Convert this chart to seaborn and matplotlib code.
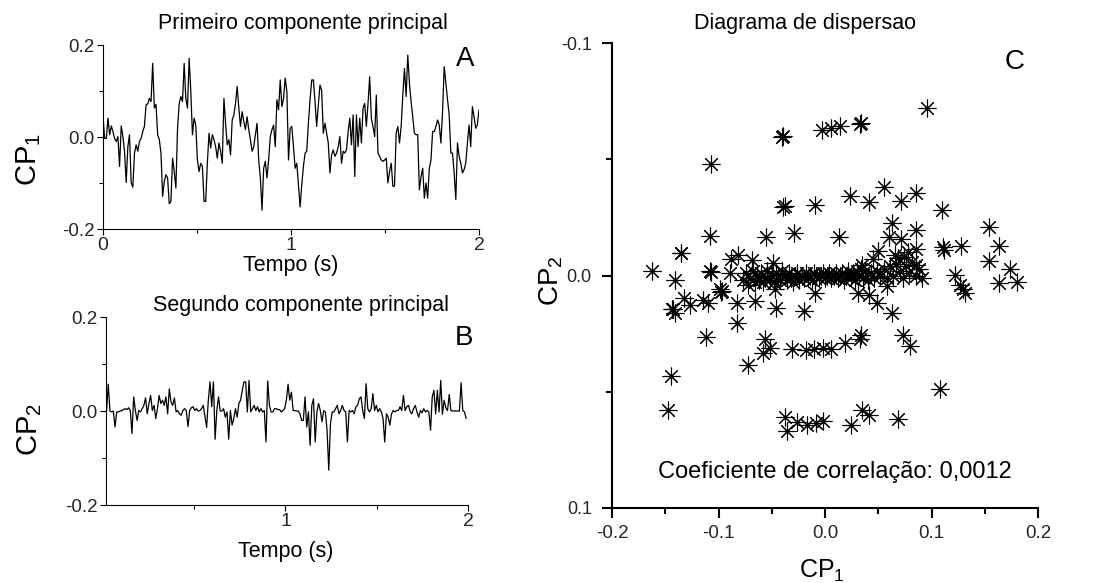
import numpy as np
import pandas as pd
import matplotlib
matplotlib.use("Agg")
import matplotlib.pyplot as plt
import seaborn as sns
from matplotlib.ticker import FixedLocator

# ---------------- data ----------------
cp1_series = [0.044, -0.003, -0.003, 0.041, 0.005, 0.024, 0.012, -0.003, -0.010, 0.001, -0.064, 0.024, 0.001,
              -0.031, -0.099, -0.021, 0.005, -0.099, -0.109, -0.035, -0.017, -0.031, -0.010, -0.003, 0.012, 0.023,
              0.070, 0.072, 0.084, 0.077, 0.160, 0.063, 0.071, 0.005, -0.006, -0.035, -0.129, -0.097, -0.082,
              -0.089, -0.145, -0.140, -0.046, -0.075, -0.111, 0.019, 0.072, 0.088, 0.077, 0.160, 0.084, 0.063,
              0.171, 0.099, 0.005, 0.041, 0.026, -0.050, -0.075, -0.057, -0.064, -0.140, -0.140, -0.057, 0.008,
              -0.024, 0.005, -0.006, -0.021, -0.046, -0.013, -0.031, -0.057, 0.084, 0.030, -0.017, -0.006, -0.039,
              0.037, 0.048, 0.073, 0.110, 0.063, 0.023, 0.055, 0.034, 0.016, 0.044, 0.016, -0.006, -0.031, -0.021,
              0.005, 0.030, -0.050, -0.089, -0.159, -0.068, -0.053, -0.089, -0.050, 0.001, 0.016, 0.026, -0.021,
              0.081, 0.059, 0.124, 0.066, 0.084, 0.128, 0.099, -0.050, 0.019, 0.023, -0.021, -0.068, -0.057,
              -0.104, -0.152, -0.104, -0.064, -0.035, -0.031, 0.030, 0.081, 0.124, 0.124, 0.077, 0.023, 0.070,
              0.113, 0.102, 0.008, 0.030, 0.008, -0.013, -0.078, -0.039, -0.028, -0.042, -0.035, -0.021, 0.001,
              -0.057, -0.031, -0.035, -0.028, 0.012, 0.041, -0.017, 0.048, -0.086, 0.048, -0.021, 0.041, -0.013,
              0.063, 0.073, 0.023, 0.073, 0.131, 0.041, 0.023, 0.001, 0.091, -0.035, -0.042, -0.050, -0.053,
              -0.050, -0.046, -0.100, -0.075, -0.057, -0.107, -0.107, 0.008, 0.023, -0.013, 0.023, 0.091, 0.149,
              0.088, 0.178, 0.117, 0.077, 0.044, 0.008, 0.005, 0.005, -0.115, -0.086, -0.068, -0.133, -0.100,
              -0.133, -0.068, -0.050, 0.012, 0.012, 0.023, 0.037, 0.026, -0.013, 0.055, 0.153, 0.117, 0.081,
              0.048, -0.035, -0.035, -0.078, -0.136, -0.013, -0.042, -0.057, -0.078, -0.071, -0.057, -0.013,
              0.026, -0.021, 0.066, 0.044, 0.019, 0.026, 0.059]

cp2_series = [0.000, 0.057, 0.000, -0.002, 0.000, -0.034, -0.002, -0.002, 0.000, 0.001, 0.003, 0.005, 0.003,
              0.007, 0.001, -0.048, 0.030, 0.001, -0.020, 0.001, -0.002, 0.005, 0.012, 0.028, -0.006, 0.016,
              0.033, 0.001, 0.012, -0.016, 0.005, 0.033, 0.016, 0.023, 0.012, 0.030, -0.006, 0.047, 0.019, 0.012,
              0.028, -0.002, 0.001, -0.006, -0.009, 0.001, 0.005, 0.001, -0.033, 0.001, 0.007, 0.009, 0.001,
              0.005, 0.000, 0.001, 0.005, 0.012, -0.011, -0.035, 0.023, 0.062, 0.009, 0.062, -0.060, 0.001,
              0.030, 0.000, 0.000, 0.005, -0.013, -0.002, -0.060, 0.001, -0.030, -0.016, 0.005, -0.013, 0.016,
              0.023, 0.044, 0.062, 0.062, -0.002, 0.065, -0.002, 0.005, 0.012, 0.001, 0.009, -0.002, 0.005,
              -0.002, 0.001, -0.066, 0.064, 0.012, -0.002, -0.002, 0.005, 0.005, 0.003, 0.003, -0.002, 0.001,
              0.005, 0.023, 0.057, 0.023, 0.040, 0.001, 0.001, 0.000, 0.000, -0.006, -0.020, -0.020, 0.030,
              -0.034, -0.002, -0.073, 0.012, 0.026, -0.066, -0.002, 0.016, 0.001, -0.023, 0.001, -0.002, -0.041,
              -0.126, -0.027, -0.002, -0.002, 0.005, 0.012, -0.006, 0.001, 0.012, 0.001, -0.002, -0.066, 0.001,
              -0.002, 0.001, -0.006, 0.009, 0.012, 0.026, 0.030, 0.001, -0.016, 0.058, 0.005, -0.002, 0.005,
              0.037, 0.001, 0.012, -0.002, 0.005, -0.002, -0.016, -0.066, -0.006, -0.013, -0.030, -0.006, 0.001,
              -0.002, 0.001, 0.001, 0.009, 0.001, 0.033, 0.001, 0.009, 0.012, -0.002, -0.006, 0.005, 0.012,
              -0.002, -0.013, 0.001, -0.004, 0.005, -0.002, 0.001, -0.002, -0.041, 0.030, 0.044, -0.006, 0.044,
              -0.002, 0.065, -0.007, 0.023, 0.007, 0.001, 0.035, 0.001, 0.000, 0.000, 0.000, 0.000, 0.000, 0.060,
              0.001, -0.002, -0.016]

time_range_a = (0.0, 2.0)     # seconds covered by series A
time_range_b = (0.02, 1.99)   # seconds covered by series B

scatter_cp1 = [0.096, 0.033, 0.034, 0.014, 0.006, -0.003, -0.040, -0.039, -0.107, 0.055, 0.0235, 0.085, 0.041,
               0.071, -0.009, -0.039, -0.038, 0.110, 0.154, 0.063, 0.085, -0.108, -0.055, -0.029, 0.0135, 0.0605,
               0.071, 0.111, 0.112, 0.128, 0.163, 0.085, -0.135, -0.135, 0.050, -0.082, -0.088, -0.069, -0.0486,
               0.0455, 0.069, 0.154, 0.085, 0.174, -0.162, -0.108, -0.107, -0.089, 0.0345, 0.122, -0.141, 0.163,
               0.180, 0.127, 0.130, 0.131, -0.099, -0.098, -0.097, 0.058, 0.031, 0.041, -0.009, -0.047, -0.132,
               -0.143, -0.144, -0.141, -0.127, -0.1145, -0.110, -0.083, -0.066, -0.046, -0.020, 0.0486, 0.0627,
               -0.083, -0.112, 0.0737, 0.080, -0.0565, -0.052, -0.058, -0.072, -0.031, -0.018, -0.0104, -0.0016,
               0.006, 0.0188, 0.033, 0.034, -0.1443, -0.1475, 0.108, 0.0345, 0.041, 0.069, -0.0376, -0.0267,
               -0.0173, -0.0085, -0.0016, -0.0355, 0.024,
               -0.077, -0.074, -0.072, -0.070, -0.068, -0.066, -0.064, -0.062, -0.060, -0.058, -0.056, -0.054,
               -0.052, -0.050, -0.048, -0.046, -0.044, -0.042, -0.040, -0.038, -0.036, -0.034, -0.032, -0.030,
               -0.028, -0.026, -0.024, -0.022, -0.020, -0.018, -0.016, -0.014, -0.012, -0.010, -0.008, -0.006,
               -0.004, -0.002, 0.000, 0.002, 0.004, 0.006, 0.008, 0.010, 0.012, 0.014, 0.016, 0.018, 0.020,
               0.022, 0.024, 0.026, 0.028, 0.030, 0.032, 0.034, 0.036, 0.038, 0.040, 0.043, 0.046, 0.049, 0.052,
               0.055, 0.058, 0.061, 0.064, 0.067, 0.070, 0.073, 0.076, 0.079, 0.082, 0.085, 0.088, 0.091, 0.074,
               0.078, 0.066]

scatter_cp2 = [-0.072, -0.065, -0.0655, -0.0645, -0.0635, -0.0625, -0.0595, -0.060, -0.048, -0.038, -0.034,
               -0.0356, -0.0315, -0.032, -0.0305, -0.0295, -0.030, -0.028, -0.021, -0.0226, -0.0195, -0.017,
               -0.0166, -0.0184, -0.0165, -0.0166, -0.0155, -0.0123, -0.011, -0.0129, -0.0129, -0.0115, -0.0095,
               -0.0097, -0.0105, -0.009, -0.007, -0.0066, -0.0054, -0.0069, -0.0076, -0.0062, -0.0047, -0.0029,
               -0.0019, -0.0019, -0.0015, -0.0011, -0.0047, -0.0004, 0.002, 0.0032, 0.0029, 0.0039, 0.006,
               0.0075, 0.006, 0.007, 0.0065, 0.0046, 0.0075, 0.0082, 0.0075, 0.006, 0.0096, 0.0143, 0.0145,
               0.016, 0.0129, 0.0106, 0.012, 0.0118, 0.011, 0.0139, 0.0153, 0.0118, 0.016, 0.0204, 0.0264,
               0.0254, 0.0304, 0.0275, 0.0311, 0.0335, 0.0387, 0.0315, 0.0321, 0.0318, 0.031, 0.0318, 0.029,
               0.0275, 0.0258, 0.0433, 0.058, 0.0487, 0.058, 0.0598, 0.0617, 0.0608, 0.0631, 0.0641, 0.0634,
               0.0627, 0.0669, 0.0641,
               0.002, -0.001, 0.004, 0.001, -0.002, 0.003, 0.000, 0.002, -0.001, 0.003, 0.001, -0.002, 0.002,
               0.000, 0.003, -0.001, 0.001, 0.002, -0.002, 0.000, 0.002, -0.001, 0.001, 0.003, 0.000, -0.001,
               0.002, 0.000, 0.001, -0.001, 0.001, 0.000, 0.002, -0.001, 0.000, 0.001, 0.000, -0.001, 0.001,
               0.000, -0.001, 0.001, 0.000, -0.001, 0.001, 0.000, -0.001, 0.002, 0.000, -0.002, 0.001, -0.001,
               0.002, -0.002, 0.000, -0.003, 0.001, -0.002, 0.002, -0.001, 0.001, -0.002, 0.000, -0.003, 0.001,
               -0.004, 0.000, -0.005, -0.002, 0.001, -0.004, -0.001, -0.006, 0.000, -0.003, 0.001, -0.008,
               -0.010, -0.009]

ts_yticks = [-0.2, 0.0, 0.2]
ts_yticklabels = ["-0.2", "0.0", "0.2"]
ts_yminor = [-0.1, 0.1]
a_xticks = [0, 1, 2]
a_xticklabels = ["0", "1", "2"]
b_xticks = [1, 2]
b_xticklabels = ["1", "2"]
ts_xminor = [0.5, 1.5]
c_xticks = [-0.2, -0.1, 0.0, 0.1, 0.2]
c_xticklabels = ["-0.2", "-0.1", "0.0", "0.1", "0.2"]
c_xminor = [-0.15, -0.05, 0.05, 0.15]
c_yticks = [-0.1, 0.0, 0.1]
c_yticklabels = ["-0.1", "0.0", "0.1"]
c_yminor = [-0.05, 0.05]

# ---------------- style ----------------
sns.set_theme(style="ticks")
plt.rcParams['font.family'] = ['Liberation Sans', 'DejaVu Sans']
plt.rcParams['mathtext.default'] = 'regular'

W, H = 1112, 583
fig = plt.figure(figsize=(W / 100, H / 100), dpi=100)
fig.patch.set_facecolor("white")

axA = fig.add_axes([103 / W, 1 - 229 / H, 376 / W, 184 / H])
axB = fig.add_axes([106 / W, 1 - 505 / H, 362 / W, 188 / H])
axC = fig.add_axes([612 / W, 1 - 508 / H, 426 / W, 465 / H])

df_a = pd.DataFrame({"t": np.linspace(*time_range_a, len(cp1_series)), "v": cp1_series})
df_b = pd.DataFrame({"t": np.linspace(*time_range_b, len(cp2_series)), "v": cp2_series})
df_c = pd.DataFrame({"x": scatter_cp1, "y": scatter_cp2})

sns.lineplot(data=df_a, x="t", y="v", ax=axA, color="black", linewidth=0.9, estimator=None, sort=False)
sns.lineplot(data=df_b, x="t", y="v", ax=axB, color="black", linewidth=0.9, estimator=None, sort=False)
sns.scatterplot(data=df_c, x="x", y="y", ax=axC, marker=(8, 2, 0), s=150, color="black",
                linewidth=0.8, legend=False)


def style_ts(ax, xticks, xlabels, xlim):
    ax.set_xlim(*xlim)
    ax.set_ylim(-0.2, 0.2)
    ax.set_yticks(ts_yticks)
    ax.set_yticklabels(ts_yticklabels)
    ax.yaxis.set_minor_locator(FixedLocator(ts_yminor))
    ax.set_xticks(xticks)
    ax.set_xticklabels(xlabels)
    ax.xaxis.set_minor_locator(FixedLocator(ts_xminor))
    for s in ["top", "right"]:
        ax.spines[s].set_visible(False)
    for s in ["left", "bottom"]:
        ax.spines[s].set_linewidth(0.8)
        ax.spines[s].set_color("black")
    ax.tick_params(axis="both", which="major", length=4, width=0.8, direction="out", color="black")
    ax.tick_params(axis="both", which="minor", length=3, width=0.8, direction="out", color="black")
    ax.tick_params(axis="y", labelsize=13.5, pad=2)
    ax.tick_params(axis="x", labelsize=14, pad=2)
    ax.set_xlabel("")
    ax.set_ylabel("")
    ax.set_facecolor("white")


style_ts(axA, a_xticks, a_xticklabels, (0, 2))
style_ts(axB, b_xticks, b_xticklabels, (0.017, 2.0))

axC.set_xlim(-0.2, 0.2)
axC.set_ylim(0.1, -0.1)
axC.set_xticks(c_xticks)
axC.set_xticklabels(c_xticklabels)
axC.xaxis.set_minor_locator(FixedLocator(c_xminor))
axC.set_yticks(c_yticks)
axC.set_yticklabels(c_yticklabels)
axC.yaxis.set_minor_locator(FixedLocator(c_yminor))
for s in ["top", "right"]:
    axC.spines[s].set_visible(False)
for s in ["left", "bottom"]:
    axC.spines[s].set_linewidth(1.5)
    axC.spines[s].set_color("black")
axC.tick_params(axis="both", which="major", length=7.5, width=1.5, direction="out", color="black")
axC.tick_params(axis="both", which="minor", length=4, width=1.5, direction="out", color="black")
axC.tick_params(axis="x", labelsize=13.5, pad=5)
axC.tick_params(axis="y", labelsize=13, pad=7)
axC.set_xlabel("")
axC.set_ylabel("")
axC.set_facecolor("white")

# ---------------- texts ----------------
def ftext(x, y, s, **kw):
    fig.text(x / W, 1 - y / H, s, ha="center", va="center", color="black", **kw)


ftext(303, 24, "Primeiro componente principal", fontsize=15.5)
ftext(301, 305, "Segundo componente principal", fontsize=15.5)
ftext(805, 24, "Diagrama de dispersao", fontsize=15.5)
ftext(291, 265, "Tempo (s)", fontsize=15.5)
ftext(286, 552, "Tempo (s)", fontsize=15.5)
ftext(465, 59, "A", fontsize=20)
ftext(464, 338, "B", fontsize=20)
ftext(1015, 62, "C", fontsize=20)
ftext(835, 472, "Coeficiente de correlação: 0,0012", fontsize=17)
ftext(29, 160, r"CP$_1$", fontsize=21, rotation=90)
ftext(30, 430, r"CP$_2$", fontsize=21, rotation=90)
ftext(551, 281, r"CP$_2$", fontsize=20, rotation=90)
ftext(822, 571, r"CP$_1$", fontsize=18)

fig.savefig("out.png", dpi=100, facecolor="white")
